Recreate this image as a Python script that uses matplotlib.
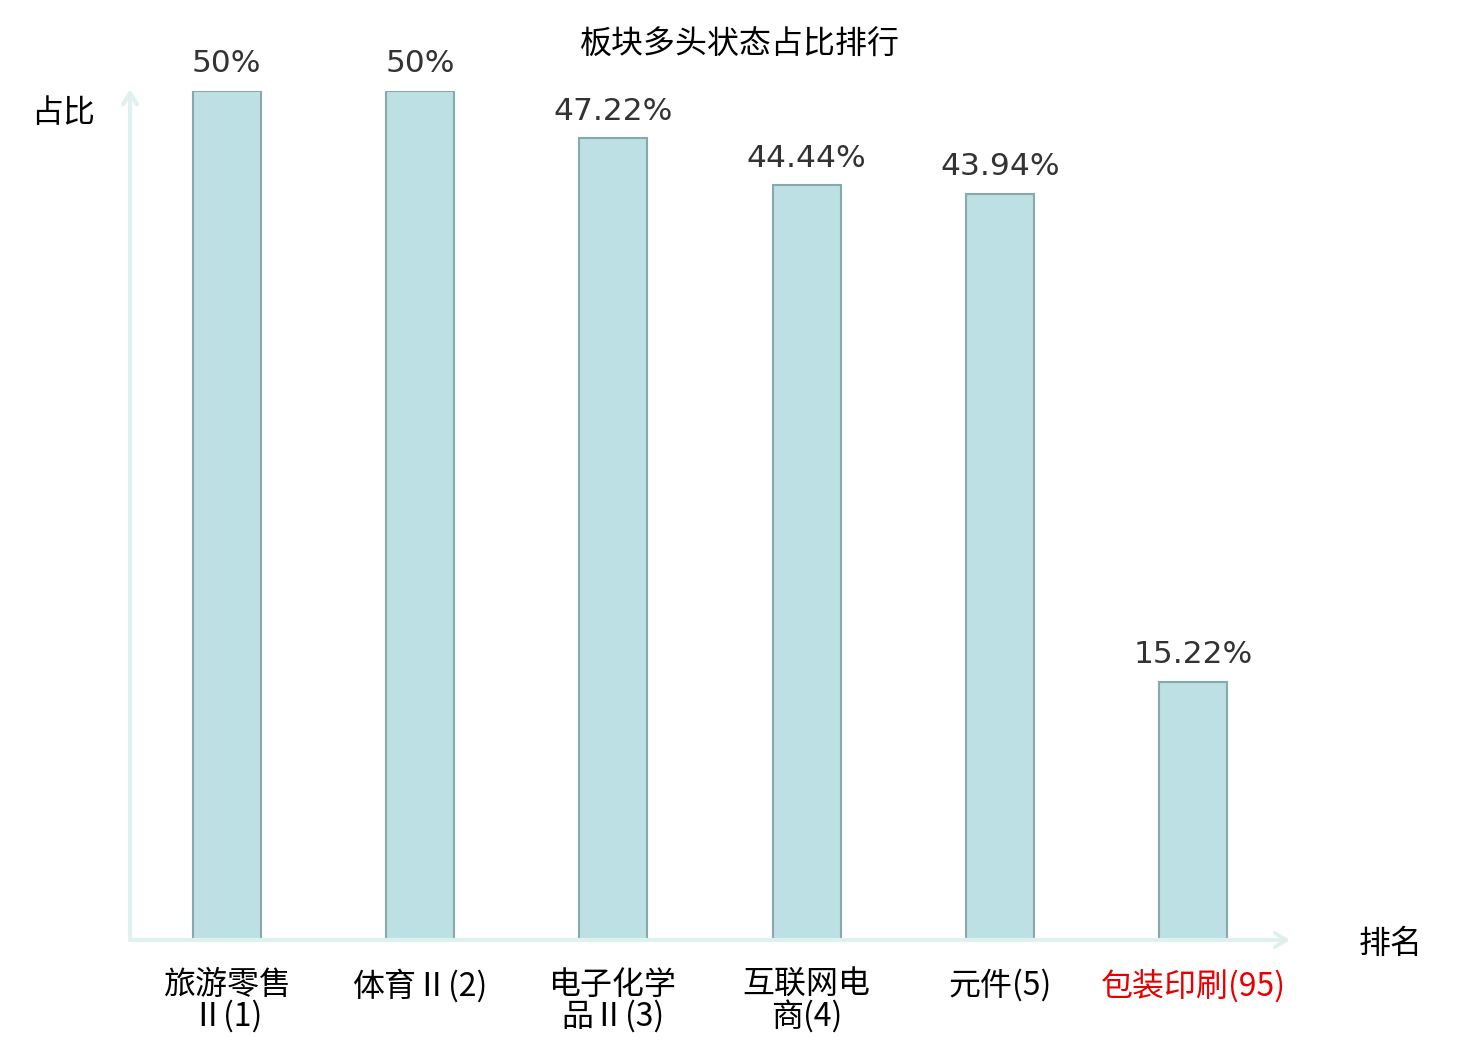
import matplotlib as mpl
import matplotlib.pyplot as plt

# ── data ──────────────────────────────────────────────────────────────────────
CATEGORIES = ['旅游零售\nⅡ(1)', '体育Ⅱ(2)', '电子化学\n品Ⅱ(3)',
              '互联网电\n商(4)', '元件(5)', '包装印刷(95)']
VALUES = [50.0, 50.0, 47.22, 44.44, 43.94, 15.22]
VALUE_LABELS = ['50%', '50%', '47.22%', '44.44%', '43.94%', '15.22%']
LABEL_COLORS = ['#000000'] * 5 + ['#e60000']

C_BAR = '#bce0e3'
C_EDGE = '#88a8aa'
C_AXIS = '#dff1ee'
C_TEXT = '#333333'

CJK = ['Noto Sans CJK SC', 'DejaVu Sans']
plt.rcParams['font.family'] = CJK

W, H = 1480, 1040
fig = plt.figure(figsize=(W / 100, H / 100), dpi=100)
ax = fig.add_axes([130 / W, 100 / H, (1290 - 130) / W, (940 - 91) / H])

x = list(range(len(VALUES)))
ax.bar(x, VALUES, width=68 / 193.3, color=C_BAR, edgecolor=C_EDGE,
       linewidth=1.5, zorder=3)
ax.set_xlim(-0.5, len(VALUES) - 0.5)
ax.set_ylim(0, 50)

for xi, v, lab in zip(x, VALUES, VALUE_LABELS):
    ax.annotate(lab, (xi, v), xytext=(0, 9), textcoords='offset points',
                ha='center', va='bottom', fontsize=22.5, color=C_TEXT,
                family='DejaVu Sans', annotation_clip=False)

for s in ax.spines.values():
    s.set_visible(False)
ax.set_xticks([])
ax.set_yticks([])

# axis lines with open arrow heads
arrow_kw = dict(arrowstyle='->,head_length=0.8,head_width=0.5', color=C_AXIS,
                lw=3, shrinkA=0, shrinkB=0)
ax.annotate('', xy=(1.0, 0), xytext=(0, 0), xycoords='axes fraction',
            arrowprops=arrow_kw, annotation_clip=False)
ax.annotate('', xy=(0, 1.002), xytext=(0, 0), xycoords='axes fraction',
            arrowprops=arrow_kw, annotation_clip=False)

# category labels
for xi, lab, c in zip(x, CATEGORIES, LABEL_COLORS):
    ax.text(xi, -29 / 849, lab, transform=ax.get_xaxis_transform(),
            ha='center', va='top', fontsize=23, color=c, linespacing=0.95)

fig.text(63 / W, 1 - 113 / H, '占比', ha='center', va='center', fontsize=23)
fig.text(1391 / W, 1 - 944 / H, '排名', ha='center', va='center', fontsize=23)
fig.text(740 / W, 1 - 45 / H, '板块多头状态占比排行', ha='center', va='center',
         fontsize=23, color='#000000')

fig.savefig('out.png', dpi=100)
